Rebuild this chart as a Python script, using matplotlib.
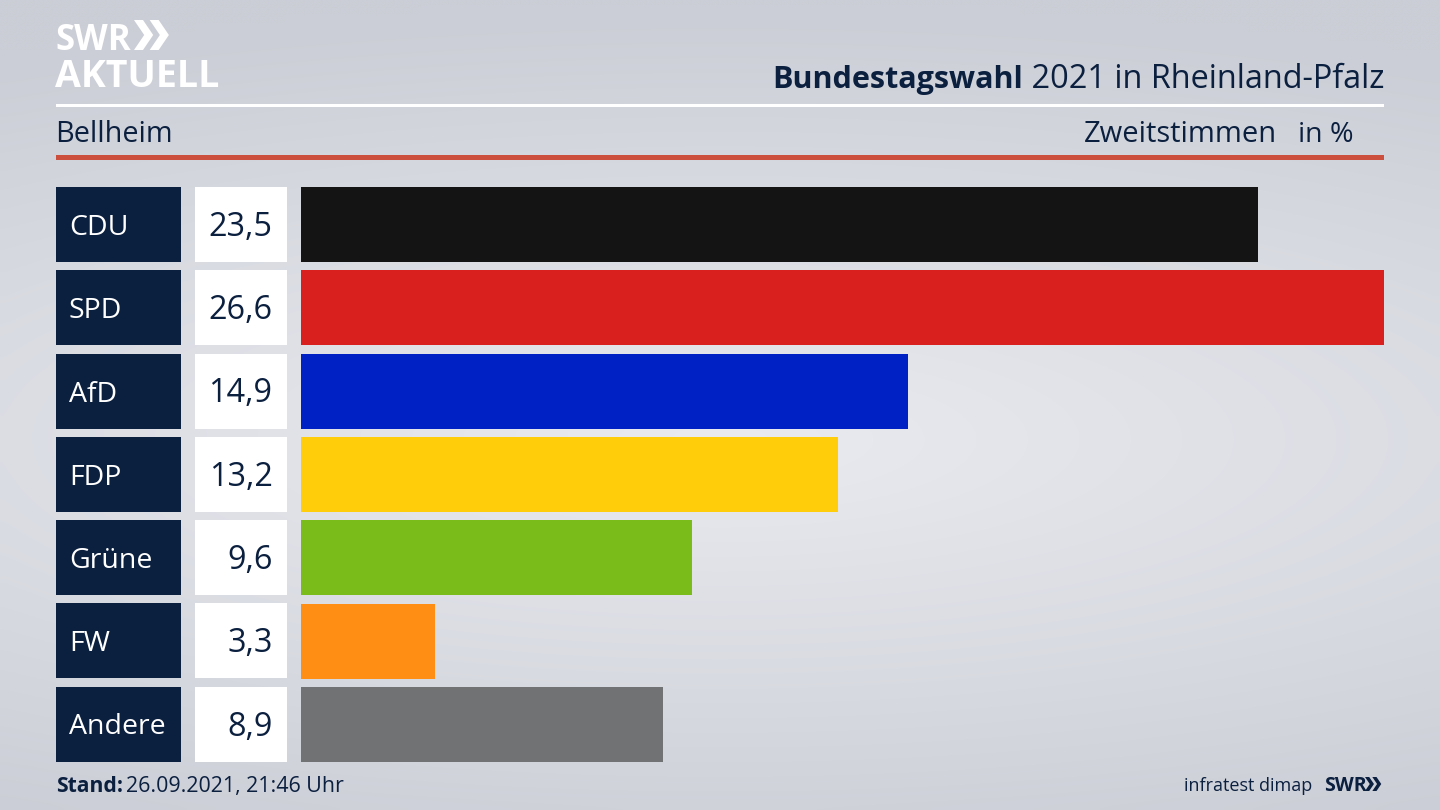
import numpy as np
import matplotlib
matplotlib.use('Agg')
import matplotlib.pyplot as plt
from matplotlib.patches import Rectangle, Polygon

plt.rcParams['font.family'] = ['Open Sans', 'DejaVu Sans']

parties = ['CDU', 'SPD', 'AfD', 'FDP', 'Grüne', 'FW', 'Andere']
values = [23.5, 26.6, 14.9, 13.2, 9.6, 3.3, 8.9]
labels = ['23,5', '26,6', '14,9', '13,2', '9,6', '3,3', '8,9']
colors = ['#141414', '#d9201f', '#0021c4', '#ffcd0a', '#7abd1a', '#ff8e15', '#717274']

NAVY = '#0b1f3f'
W, H = 1440, 810


def chevrons(ax, x, top, h, color):
    # the two arrow heads of the SWR logo
    w = h * 0.55
    t = h * 0.3
    for dx in (0, w * 0.95):
        ax.add_patch(Polygon([(x + dx, top), (x + dx + t, top), (x + dx + w + t * 0.3, top + h / 2),
                              (x + dx + t, top + h), (x + dx, top + h), (x + dx + w - t * 0.7, top + h / 2)],
                             closed=True, color=color, lw=0))


fig = plt.figure(figsize=(14.4, 8.1), dpi=100)

# background, pixel coordinates
bg = fig.add_axes([0, 0, 1, 1])
yy, xx = np.mgrid[0:H:90j, 0:W:160j]
d = np.sqrt(((xx - 720) / 1500) ** 2 + ((yy - 440) / 430) ** 2)
shade = np.clip(d, 0, 1)
c1 = np.array([234, 235, 240]) / 255
c2 = np.array([203, 206, 214]) / 255
img = c1[None, None, :] * (1 - shade[..., None]) + c2[None, None, :] * shade[..., None]
bg.imshow(img, extent=[0, W, H, 0], aspect='auto', interpolation='bicubic')
bg.set_xlim(0, W)
bg.set_ylim(H, 0)
bg.axis('off')

# header rules
bg.add_patch(Rectangle((56, 104), 1328, 3, color='white', lw=0))
bg.add_patch(Rectangle((56, 155), 1328, 5, color='#cb4f3c', lw=0))

# logo
bg.text(55, 50, 'SWR', color='white', fontsize=25, fontweight='bold', va='baseline', ha='left')
chevrons(bg, 134, 20, 30, 'white')
bg.text(55, 87, 'AKTUELL', color='white', fontsize=27, fontweight='bold', va='baseline', ha='left')

# title
t = bg.text(1384, 88, ' 2021 in Rheinland-Pfalz', color=NAVY, fontsize=23.4, va='baseline', ha='right')
fig.canvas.draw()
x0 = bg.transData.inverted().transform(t.get_window_extent().p0)[0]
bg.text(x0, 88, 'Bundestagswahl', color=NAVY, fontsize=22, fontweight='bold', va='baseline', ha='right')

bg.text(55, 142, 'Bellheim', color=NAVY, fontsize=20.8, va='baseline', ha='left')
bg.text(1277, 142, 'Zweitstimmen', color=NAVY, fontsize=21, va='baseline', ha='right')
bg.text(1354, 142, 'in %', color=NAVY, fontsize=20.5, va='baseline', ha='right')

# footer
bg.text(56, 792, 'Stand:', color=NAVY, fontsize=15.2, fontweight='bold', va='baseline', ha='left')
bg.text(126, 792, '26.09.2021, 21:46 Uhr', color=NAVY, fontsize=15.4, va='baseline', ha='left')
bg.text(1312, 791, 'infratest dimap', color=NAVY, fontsize=13, va='baseline', ha='right')
bg.text(1324, 791, 'SWR', color=NAVY, fontsize=14, fontweight='bold', va='baseline', ha='left')
chevrons(bg, 1365, 777, 14, NAVY)

# bars: x from 301 to 1384 px, rows 187..762
ax = fig.add_axes([301 / W, 1 - 766 / H, (1384 - 301) / W, (766 - 183) / H])
ax.patch.set_alpha(0)
y = np.arange(len(parties))
ax.barh(y, values, height=75 / 83.25, color=colors)
ax.set_xlim(0, 26.6)
ax.set_ylim(len(parties) - 0.5, -0.5)
ax.axis('off')

# label boxes next to the bars
for i, (p, lab) in enumerate(zip(parties, labels)):
    top = 187 + i * 83.25
    bg.add_patch(Rectangle((56, top), 125, 75, color=NAVY, lw=0))
    bg.add_patch(Rectangle((195, top), 92, 75, color='white', lw=0))
    bg.text(69, top + 48, p, color='white', fontsize=20.5, va='baseline', ha='left')
    bg.text(272.5, top + 49, lab, color=NAVY, fontsize=23.3, va='baseline', ha='right')

fig.savefig('out.png', dpi=100)
